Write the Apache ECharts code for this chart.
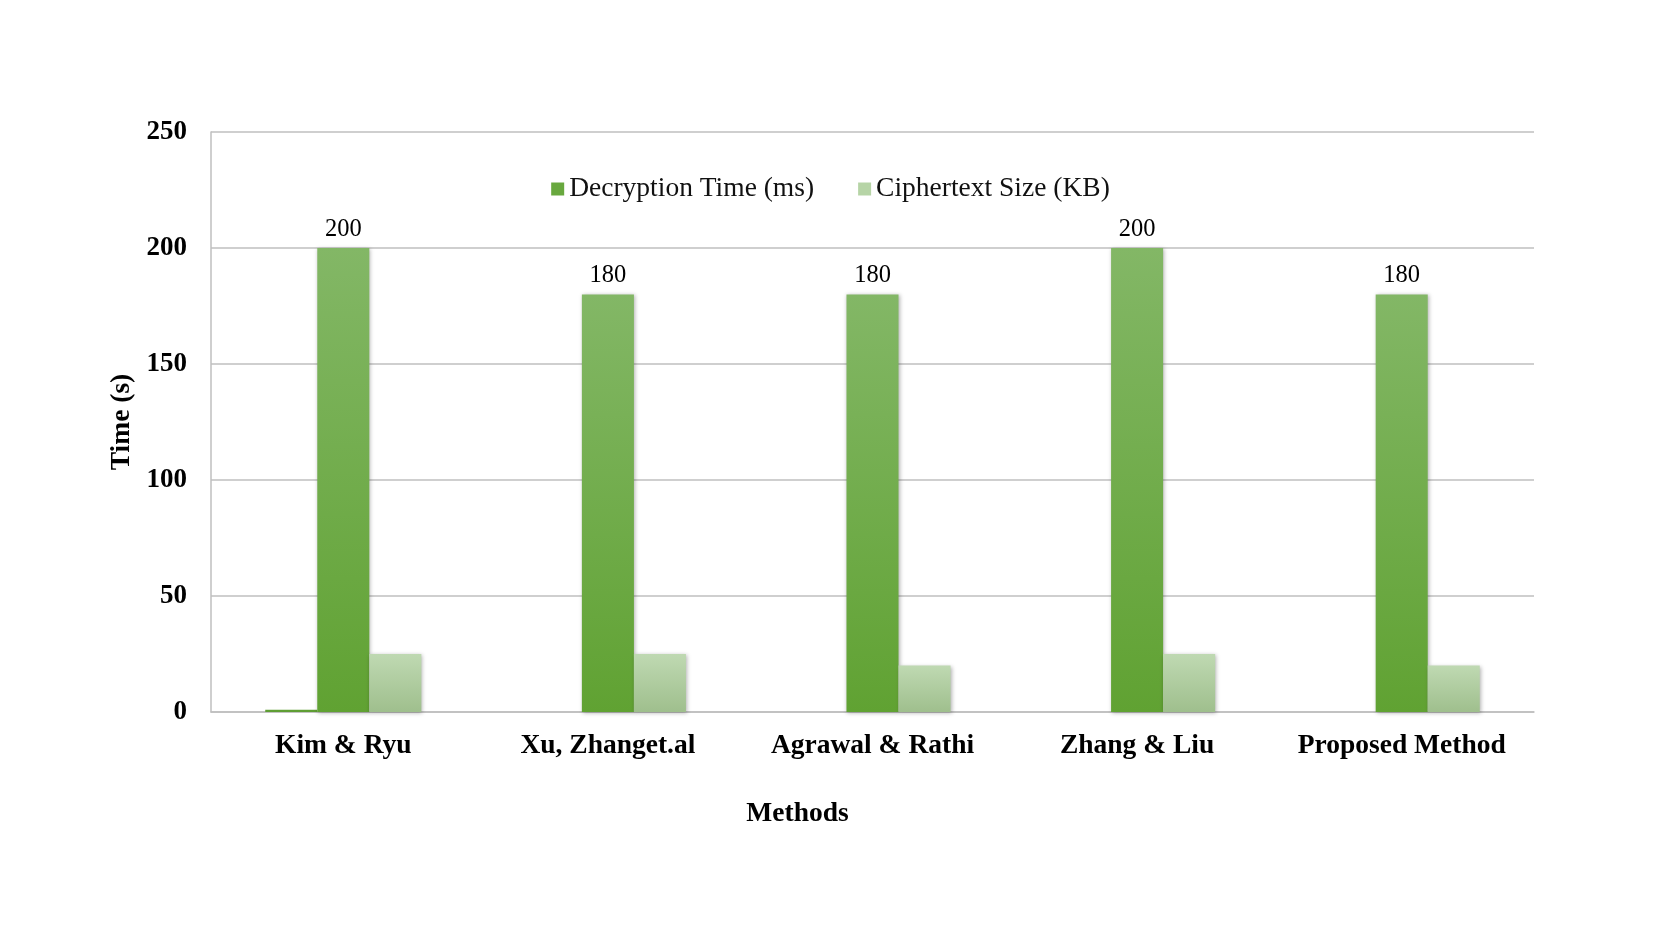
<!DOCTYPE html>
<html>
<head>
<meta charset="UTF-8">
<title>Decryption time and ciphertext size</title>
<script src="https://cdn.jsdelivr.net/npm/echarts@6/dist/echarts.min.js"></script>
<style>
  html, body { margin: 0; padding: 0; background: #fff; }
  #chart { width: 1661px; height: 934px; }
</style>
</head>
<body>
<div id="chart"></div>
<script type="text/javascript">
var methods = ['Kim & Ryu', 'Xu, Zhanget.al', 'Agrawal & Rathi', 'Zhang & Liu', 'Proposed Method'];
var baseSeries = [1, 0, 0, 0, 0];
var decryptionTime = [200, 180, 180, 200, 180];
var ciphertextSize = [25, 25, 20, 25, 20];
var yTicks = [0, 50, 100, 150, 200, 250];

var serif = '"Liberation Serif", "DejaVu Serif", serif';

function grad(top, bottom) {
  return new echarts.graphic.LinearGradient(0, 0, 0, 1, [
    { offset: 0, color: top },
    { offset: 1, color: bottom }
  ]);
}

var chart = echarts.init(document.getElementById('chart'));
var option = {
  animation: false,
  backgroundColor: '#fff',
  textStyle: { fontFamily: serif },
  grid: { left: 211, right: 127, top: 132, bottom: 222 },
  legend: {
    top: 170,
    left: 'center',
    icon: 'rect',
    itemWidth: 13,
    itemHeight: 13,
    itemGap: 44,
    textStyle: { fontFamily: serif, fontSize: 27.5, color: '#111' },
    data: [
      { name: 'Decryption Time (ms)', itemStyle: { color: '#68a83e' } },
      { name: 'Ciphertext Size (KB)', itemStyle: { color: '#b6d4a6' } }
    ]
  },
  xAxis: {
    type: 'category',
    data: methods,
    name: 'Methods',
    nameLocation: 'middle',
    nameGap: 88,
    nameTextStyle: {
      fontFamily: serif, fontSize: 27.5, fontWeight: 'bold', color: '#000',
      padding: [0, 150, 0, 0]
    },
    axisLine: { lineStyle: { color: '#bfbfbf', width: 1.5 } },
    axisTick: { show: false },
    axisLabel: {
      interval: 0,
      fontFamily: serif, fontSize: 27.5, fontWeight: 'bold', color: '#000', margin: 20
    }
  },
  yAxis: {
    type: 'value',
    min: yTicks[0],
    max: yTicks[yTicks.length - 1],
    interval: 50,
    name: 'Time (s)',
    nameLocation: 'middle',
    nameGap: 70,
    nameTextStyle: { fontFamily: serif, fontSize: 27.5, fontWeight: 'bold', color: '#000' },
    axisLine: { show: true, lineStyle: { color: '#bfbfbf', width: 1.5 } },
    axisTick: { show: false },
    splitLine: { lineStyle: { color: '#bfbfbf', width: 1.5 } },
    axisLabel: { fontFamily: serif, fontSize: 27, fontWeight: 'bold', color: '#000', margin: 24 }
  },
  series: [
    {
      name: 'base',
      type: 'bar',
      data: baseSeries,
      barGap: '0%',
      barCategoryGap: '41%',
      itemStyle: { color: '#5f9e34' }
    },
    {
      name: 'Decryption Time (ms)',
      type: 'bar',
      data: decryptionTime,
      itemStyle: {
        color: grad('#83b766', '#60a232'),
        shadowColor: 'rgba(0,0,0,0.3)',
        shadowBlur: 4,
        shadowOffsetX: 1,
        shadowOffsetY: 1
      },
      label: {
        show: true,
        position: 'top',
        distance: 6,
        fontFamily: serif,
        fontSize: 24.5,
        color: '#000'
      }
    },
    {
      name: 'Ciphertext Size (KB)',
      type: 'bar',
      data: ciphertextSize,
      itemStyle: {
        color: grad('#bfd9b2', '#9fbf8d'),
        shadowColor: 'rgba(0,0,0,0.3)',
        shadowBlur: 4,
        shadowOffsetX: 1,
        shadowOffsetY: 1
      }
    }
  ]
};
chart.setOption(option);
</script>
</body>
</html>
